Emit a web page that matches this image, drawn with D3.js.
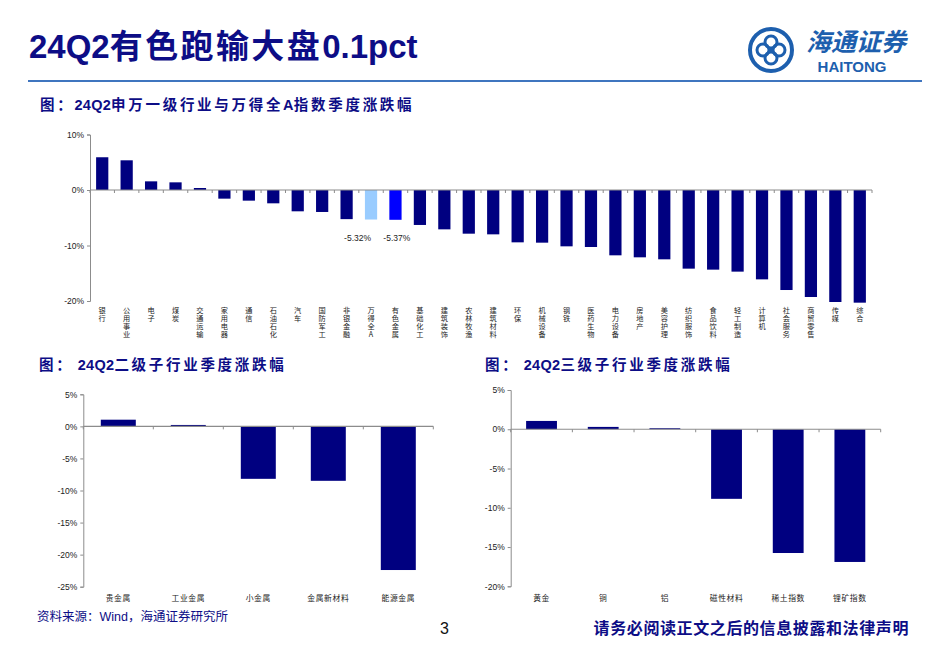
<!DOCTYPE html>
<html><head><meta charset="utf-8">
<script src="https://cdn.jsdelivr.net/npm/d3@7"></script>
<style>
html,body{margin:0;padding:0;background:#fff;}
svg{display:block;}
</style></head>
<body>
<script>
// ---------- data ----------
const l1Categories = ["银行","公用事业","电子","煤炭","交通运输","家用电器","通信","石油石化","汽车","国防军工","非银金融","万得全A","有色金属","基础化工","建筑装饰","农林牧渔","建筑材料","环保","机械设备","钢铁","医药生物","电力设备","房地产","美容护理","纺织服饰","食品饮料","轻工制造","计算机","社会服务","商贸零售","传媒","综合"];
const l1Values = [5.9,5.35,1.56,1.38,0.36,-1.56,-1.92,-2.4,-3.84,-3.96,-5.25,-5.32,-5.37,-6.3,-7.09,-7.87,-7.99,-9.43,-9.49,-10.15,-10.27,-11.77,-12.13,-12.49,-14.17,-14.35,-14.71,-16.1,-18.02,-19.28,-20.18,-20.3];
const l1Ticks = [10,0,-10,-20];
const l2Categories = ["贵金属","工业金属","小金属","金属新材料","能源金属"];
const l2Values = [1.04,0.22,-8.18,-8.49,-22.4];
const l2Ticks = [5,0,-5,-10,-15,-20,-25];
const l3Categories = ["黄金","铜","铝","磁性材料","稀土指数","锂矿指数"];
const l3Values = [1.06,0.3,0.13,-8.86,-15.76,-16.9];
const l3Ticks = [5,0,-5,-10,-15,-20];
const highlight = {"万得全A":"#99ccff","有色金属":"#0000ff"};
const annotated = {"万得全A":{anchor:"end",dx:0},"有色金属":{anchor:"start",dx:-6}};

// ---------- canvas ----------
const W=950,H=657;
const NAVY="#0d0d86", BAR="#000080", AX="#8c8c8c";
const LAT="'Liberation Sans', Arial, 'Noto Sans CJK SC', sans-serif";
const CJK="'Liberation Sans','Noto Sans CJK SC', sans-serif";
const svg=d3.select("body").append("svg").attr("width",W).attr("height",H);

// text with CJK runs letter-spaced and latin runs tight
function mixedText(sel,str,cjkLs,latLs){
  const runs=str.match(/[\u0000-\u00ff]+|[^\u0000-\u00ff]+/g);
  runs.forEach(r=>{
    const isLat=/^[\u0000-\u00ff]+$/.test(r);
    sel.append("tspan").attr("letter-spacing",isLat?latLs:cjkLs).text(r);
  });
  return sel;
}

// header
mixedText(svg.append("text").attr("x",29).attr("y",58).attr("fill",NAVY)
  .attr("font-family",CJK).attr("font-weight","bold").attr("font-size",33),
  "24Q2有色跑输大盘0.1pct",2.4,0);
svg.append("line").attr("x1",28).attr("x2",922).attr("y1",81).attr("y2",81)
  .attr("stroke","#3f75bf").attr("stroke-width",2.2);

// logo
const lg=svg.append("g").attr("transform","translate(771,50)");
const LC="#1d5fae";
lg.append("circle").attr("r",21).attr("fill","none").attr("stroke",LC).attr("stroke-width",4);
[[0,-8],[8,0],[0,8],[-8,0]].forEach(([x,y])=>{
  lg.append("circle").attr("cx",x).attr("cy",y).attr("r",6).attr("fill","none").attr("stroke",LC).attr("stroke-width",3);
});
lg.append("circle").attr("r",3).attr("fill",LC);
svg.append("text").attr("x",856).attr("y",51).attr("text-anchor","middle").attr("fill",LC)
  .attr("font-family","'Noto Sans CJK SC',sans-serif").attr("font-weight","bold").attr("font-style","italic")
  .attr("font-size",25).text("海通证券");
svg.append("text").attr("x",852).attr("y",72).attr("text-anchor","middle").attr("fill",LC)
  .attr("font-family",LAT).attr("font-weight","bold").attr("font-size",15).text("HAITONG");

// subtitles
function subtitle(x,y,t){
  mixedText(svg.append("text").attr("x",x).attr("y",y).attr("fill",NAVY).attr("font-family",CJK)
    .attr("font-weight","bold").attr("font-size",14.5),t,2.7,0.3);
}
subtitle(40,110,"图：24Q2申万一级行业与万得全A指数季度涨跌幅");
subtitle(39,370,"图： 24Q2二级子行业季度涨跌幅");
subtitle(485,370,"图： 24Q2三级子行业季度涨跌幅");

// generic bar chart
function barChart(opt){
  const g=svg.append("g");
  const x=d3.scaleBand().domain(opt.cats).range([opt.x0,opt.x1]).paddingInner(0.5).paddingOuter(0.25);
  const y=d3.scaleLinear().domain(opt.domain).range([opt.y0,opt.y1]);
  const step=x.step();
  g.selectAll("rect.bar").data(opt.cats.map((c,i)=>({c,v:opt.vals[i]}))).join("rect")
    .attr("class","bar")
    .attr("x",d=>x(d.c)).attr("width",x.bandwidth())
    .attr("y",d=>y(Math.max(0,d.v))).attr("height",d=>Math.abs(y(d.v)-y(0)))
    .attr("fill",d=>highlight[d.c]||BAR);
  const yAxis=d3.axisLeft(y).tickValues(opt.ticks).tickSize(3).tickPadding(3).tickFormat(d=>d+"%");
  const ya=g.append("g").attr("transform",`translate(${opt.x0},0)`).call(yAxis);
  ya.select(".domain").attr("stroke",AX);
  ya.selectAll(".tick line").attr("stroke",AX);
  ya.selectAll("text").attr("font-family",LAT).attr("font-size",8.5).attr("fill","#222");
  g.append("line").attr("x1",opt.x0).attr("x2",opt.x1).attr("y1",y(0)).attr("y2",y(0)).attr("stroke",AX).attr("stroke-width",1.2);
  const bounds=[opt.x0].concat(opt.cats.map(c=>x(c)+x.bandwidth()/2+step/2));
  g.selectAll("line.bt").data(bounds).join("line").attr("class","bt")
    .attr("x1",d=>d).attr("x2",d=>d).attr("y1",y(0)).attr("y2",y(0)+3).attr("stroke",AX);
  if(opt.vertical){
    g.selectAll("text.cat").data(opt.cats).join("text").attr("class","cat")
      .attr("x",c=>x(c)+x.bandwidth()/2).attr("y",opt.labelY)
      .attr("writing-mode","vertical-rl").style("text-orientation","upright")
      .attr("font-family","'Noto Sans CJK SC',sans-serif")
      .attr("font-size",7.2).attr("letter-spacing",0.8).attr("fill","#222").text(c=>c);
  } else {
    g.selectAll("text.cat").data(opt.cats).join("text").attr("class","cat")
      .attr("x",c=>x(c)+x.bandwidth()/2).attr("y",opt.labelY).attr("text-anchor","middle")
      .attr("font-family","'Noto Sans CJK SC',sans-serif").attr("font-size",7.8).attr("letter-spacing",0.6)
      .attr("fill","#222").text(c=>c);
  }
  return {g,x,y};
}

const chart1=barChart({cats:l1Categories,vals:l1Values,ticks:l1Ticks,domain:[-20,10],
  x0:90,x1:872,y0:301,y1:134.5,vertical:true,labelY:307});
l1Categories.forEach((c,i)=>{
  if(!annotated[c]) return;
  const a=annotated[c];
  const bx=a.anchor==="end"?chart1.x(c)+chart1.x.bandwidth()/2:chart1.x(c);
  chart1.g.append("text").attr("x",bx+a.dx).attr("y",chart1.y(l1Values[i])+21).attr("text-anchor",a.anchor)
    .attr("font-family",LAT).attr("font-size",8.5).attr("fill","#222")
    .text(l1Values[i].toFixed(2)+"%");
});

barChart({cats:l2Categories,vals:l2Values,ticks:l2Ticks,domain:[-25,5],
  x0:83.3,x1:433.3,y0:586.7,y1:394.3,vertical:false,labelY:601});
barChart({cats:l3Categories,vals:l3Values,ticks:l3Ticks,domain:[-20,5],
  x0:510.7,x1:880.7,y0:586.3,y1:390,vertical:false,labelY:601});

// footer
svg.append("text").attr("x",37).attr("y",621).attr("fill",NAVY).attr("font-family",CJK)
  .attr("font-size",12.5).text("资料来源：Wind，海通证券研究所");
svg.append("text").attr("x",440).attr("y",634).attr("fill","#111").attr("font-family",LAT)
  .attr("font-size",16).text("3");
svg.append("text").attr("x",909).attr("y",634).attr("text-anchor","end").attr("fill",NAVY).attr("font-family",CJK)
  .attr("font-weight","bold").attr("font-size",16).attr("letter-spacing",0.6).text("请务必阅读正文之后的信息披露和法律声明");
</script>
</body></html>
